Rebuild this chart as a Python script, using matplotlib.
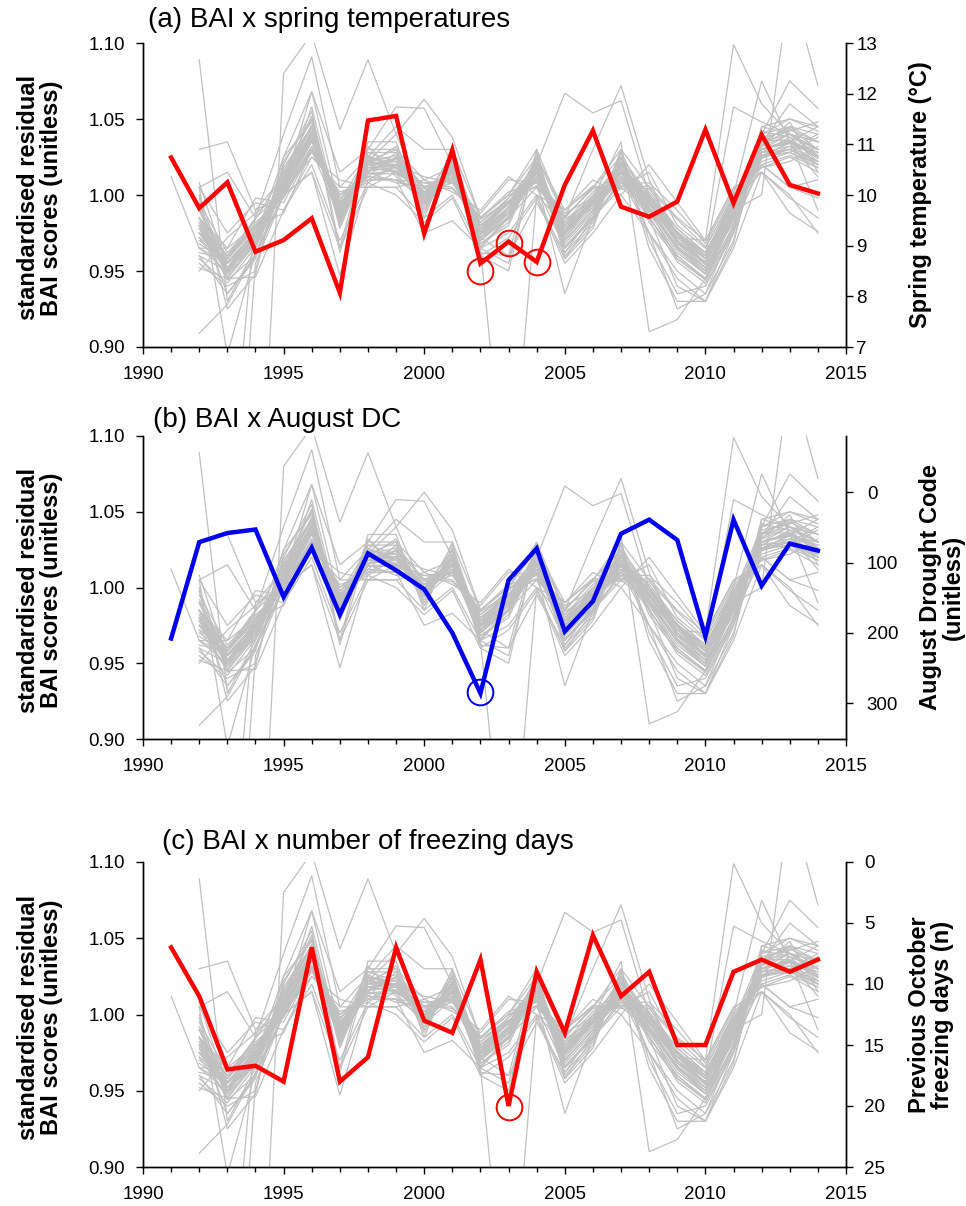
import numpy as np
import matplotlib
matplotlib.use('Agg')
import matplotlib.pyplot as plt
from matplotlib.ticker import MultipleLocator, FixedLocator

plt.rcParams['font.family'] = ['Liberation Sans', 'DejaVu Sans']

nan = np.nan
years = list(range(1991, 2015))

# Climate series (secondary axes)
spring_temp = [10.74, 9.74, 10.25, 8.88, 9.11, 9.54, 8.07, 11.47, 11.56, 9.24, 10.89, 8.65,
               9.08, 8.68, 10.20, 11.27, 9.77, 9.57, 9.87, 11.29, 9.84, 11.19, 10.20, 10.03]
august_dc = [208, 71, 58, 53, 149, 79, 174, 87, 111, 138, 200, 286,
             125, 80, 198, 155, 59, 39, 68, 205, 39, 133, 73, 83]
freezing_days = [7, 11, 17, 16.7, 18, 7, 18, 16, 7, 13, 14, 8,
                 20, 9, 14, 6, 11, 9, 15, 15, 9, 8, 9, 8]

# highlighted years (circles)
circle_years_a = [2002, 2003, 2004]
circle_temp_a = [8.50, 9.06, 8.68]
circle_years_b = [2002]
circle_dc_b = [284]
circle_years_c = [2003]
circle_days_c = [20.1]

# Standardised residual BAI chronologies of individual trees (1991-2014)
bai_trees = [
    [nan, 0.990, 0.950, 0.972, 1.010, 1.045, 0.985, 1.025, 1.018, 0.995, 1.020, 0.970, 0.985, 1.020, 0.970, 0.990, 1.020, 0.990, 0.965, 0.950, 0.985, 1.035, 1.040, 1.030],
    [nan, 0.975, 0.960, 0.980, 1.000, 1.035, 0.995, 1.015, 1.025, 1.005, 1.010, 0.980, 0.995, 1.010, 0.980, 1.000, 1.010, 1.000, 0.975, 0.960, 0.995, 1.025, 1.030, 1.020],
    [nan, 1.000, 0.945, 0.968, 1.015, 1.050, 0.980, 1.030, 1.030, 0.990, 1.025, 0.965, 0.955, 1.025, 0.965, 0.985, 1.025, 0.985, 0.960, 0.945, 0.980, 1.040, 1.045, 1.035],
    [nan, 0.965, 0.965, 0.998, 0.995, 1.030, 1.000, 1.010, 1.010, 1.008, 1.005, 0.985, 1.000, 1.005, 0.985, 1.005, 1.005, 1.015, 0.980, 0.965, 1.000, 1.020, 1.005, 1.010],
    [nan, 0.955, 0.940, 0.950, 1.020, 1.055, 0.965, 1.035, 1.035, 0.985, 1.030, 0.960, 0.950, 1.028, 0.960, 0.980, 1.030, 0.970, 0.935, 0.940, 0.975, 1.045, 1.050, 1.042],
    [nan, 1.005, 0.975, 0.995, 0.990, 1.025, 1.010, 1.005, 1.005, 1.010, 1.002, 0.990, 1.012, 1.000, 0.990, 1.010, 1.000, 1.020, 0.995, 0.970, 1.005, 1.015, 0.998, 0.985],
    [nan, 0.985, 0.935, 0.958, 1.025, 1.048, 0.978, 1.022, 1.040, 0.998, 1.018, 0.972, 0.992, 1.018, 0.972, 0.995, 1.018, 0.975, 0.950, 0.935, 0.970, 1.038, 1.042, 1.048],
    [nan, 0.970, 0.958, 0.978, 1.008, 1.042, 0.992, 1.018, 1.015, 1.002, 1.012, 0.978, 0.988, 1.012, 0.978, 0.992, 1.012, 0.995, 0.972, 0.958, 0.992, 1.028, 1.032, 1.028],
    [nan, 0.960, 0.950, 0.970, 1.003, 1.038, 0.988, 1.028, 1.022, 0.992, 1.022, 0.968, 0.982, 1.022, 0.968, 0.988, 1.022, 0.988, 0.962, 0.948, 0.988, 1.032, 1.048, 1.015],
    [nan, 0.995, 0.962, 0.982, 0.998, 1.032, 0.998, 1.012, 1.028, 1.005, 1.015, 0.982, 0.998, 1.015, 0.982, 1.002, 1.015, 1.002, 0.978, 0.962, 0.998, 1.022, 1.028, 1.038],
    [nan, 0.980, 0.948, 0.974, 1.012, 1.052, 0.982, 1.032, 1.012, 0.996, 1.028, 0.974, 0.990, 1.016, 0.962, 0.982, 1.028, 0.992, 0.966, 0.952, 0.982, 1.042, 1.038, 1.022],
    [nan, 0.950, 0.972, 0.988, 1.002, 1.028, 1.002, 1.008, 1.020, 1.012, 1.008, 0.988, 1.010, 1.008, 0.988, 0.998, 1.008, 1.008, 0.990, 0.968, 1.002, 1.018, 1.022, 1.032],
    [nan, 1.008, 0.952, 0.966, 1.018, 1.045, 0.986, 1.020, 1.032, 0.994, 1.016, 0.966, 0.986, 1.024, 0.974, 0.996, 1.024, 0.982, 0.958, 0.944, 0.978, 1.034, 1.060, 1.045],
    [nan, 0.978, 0.944, 0.960, 1.006, 1.036, 0.996, 1.026, 1.018, 1.000, 1.024, 0.976, 0.996, 1.010, 0.976, 0.994, 1.016, 0.998, 0.974, 0.954, 0.994, 1.030, 1.034, 1.012],
    [nan, 0.990, 0.956, 0.976, 1.004, 1.058, 0.984, 1.016, 1.024, 0.998, 1.020, 0.972, 0.984, 1.018, 0.966, 0.986, 1.020, 0.996, 0.968, 0.956, 0.986, 1.036, 1.036, 0.990],
    [nan, 0.962, 0.958, 0.984, 1.014, 1.040, 0.990, 1.024, 1.014, 1.004, 1.010, 0.980, 0.994, 1.014, 0.984, 0.996, 1.014, 0.994, 0.976, 0.960, 0.996, 1.026, 1.030, 1.040],
    [nan, 0.998, 0.925, 0.948, 1.022, 1.050, 0.962, 1.028, 1.028, 0.988, 1.026, 0.962, 0.960, 1.030, 0.958, 0.978, 1.028, 0.965, 0.930, 0.930, 0.968, 1.045, 1.040, 1.035],
    [nan, 0.985, 0.965, 0.980, 0.988, 1.030, 1.000, 1.015, 1.008, 1.006, 1.004, 0.984, 0.996, 1.006, 0.986, 1.004, 1.006, 1.004, 0.984, 0.966, 0.998, 1.020, 1.026, 1.018],
    [nan, 0.972, 0.946, 0.970, 1.016, 1.044, 0.986, 1.020, 1.020, 0.998, 1.018, 0.970, 0.988, 1.018, 0.970, 0.990, 1.018, 0.990, 0.966, 0.948, 0.985, 1.032, 1.040, 1.026],
    [nan, 0.958, 0.942, 0.966, 1.010, 1.046, 0.980, 1.022, 1.026, 0.994, 1.022, 0.968, 0.980, 1.020, 0.966, 0.984, 1.022, 0.986, 0.956, 0.942, 0.976, 1.036, 1.044, 1.030],
    [1.012, 0.965, 0.950, 0.975, 1.000, 1.030, 0.995, 1.012, 1.010, 0.998, 1.012, 0.975, 0.990, 1.012, 0.975, 0.995, 1.010, 0.998, 0.975, 0.958, 0.992, 1.025, 1.030, 1.020],
    [nan, 1.089, 0.930, 0.965, 1.005, 1.068, 0.990, 1.022, 1.030, 1.010, 1.018, 0.975, 0.995, 1.018, 0.980, 0.995, 1.020, 0.998, 0.975, 0.955, 0.990, 1.030, 1.035, 1.025],
    [nan, 1.030, 1.035, 0.990, 1.000, 1.030, 0.998, 1.010, 1.020, 1.005, 1.015, 0.980, 0.995, 1.012, 0.978, 0.998, 1.012, 1.000, 0.975, 0.958, 0.995, 1.025, 1.028, 1.020],
    [nan, 1.005, 1.015, 0.985, 1.002, 1.025, 1.005, 1.005, 1.015, 1.008, 1.010, 0.985, 1.002, 1.008, 0.990, 1.006, 1.004, 1.006, 0.985, 0.970, 1.004, 1.018, 1.025, 1.015],
    [nan, 0.909, 0.928, 0.962, 1.000, 1.015, 0.965, 1.005, 1.005, 0.985, 1.000, 0.965, 0.975, 1.000, 0.958, 0.985, 1.005, 0.990, 0.958, 0.945, 0.980, 1.020, 1.005, 0.998],
    [nan, 0.952, 0.945, 0.946, 0.990, 1.020, 0.970, 1.008, 1.000, 0.982, 0.998, 0.960, 0.972, 0.998, 0.955, 0.975, 1.000, 0.975, 0.945, 0.930, 0.965, 1.015, 1.000, 0.975],
    [nan, nan, nan, 0.720, 1.080, 1.106, 1.043, 1.089, 1.040, 1.063, 1.038, 0.985, 1.000, 1.025, 0.990, 1.005, 1.025, 1.000, 0.975, 0.960, 0.995, 1.035, 1.045, 1.040],
    [nan, 0.985, 0.960, 0.985, 1.040, 1.091, 1.005, 1.025, 1.045, 1.030, 1.030, 0.985, 1.000, 1.030, 0.985, 1.005, 1.030, 1.005, 0.975, 0.962, 0.995, 1.040, 1.050, 1.045],
    [nan, 0.975, 0.955, 0.972, 1.025, 1.068, 1.015, 1.030, 1.058, 1.057, 1.020, 0.978, 0.995, 1.022, 0.975, 0.998, 1.022, 1.000, 0.970, 0.955, 0.990, 1.033, 1.043, 1.035],
    [nan, 0.960, 0.935, 0.960, 1.000, 1.015, 0.947, 1.010, 1.010, 0.975, 0.983, 0.965, 0.985, 1.005, 0.965, 0.985, 1.010, 0.985, 0.960, 0.945, 0.985, 1.025, 1.035, 1.020],
    [nan, 0.980, 0.955, 0.975, 1.010, 1.040, 0.990, 1.020, 1.020, 1.000, 1.015, 0.965, 0.780, 1.000, 0.980, 1.000, 1.020, 0.998, 0.972, 0.955, 0.990, 1.030, 1.035, 1.025],
    [nan, 0.990, 0.952, 0.978, 1.006, 1.038, 0.994, 1.016, 1.018, 1.002, 1.010, 0.978, 0.998, 1.020, 1.067, 1.054, 1.062, 1.000, 0.975, 0.962, 0.992, 1.028, 1.038, 1.030],
    [nan, 0.968, 0.955, 0.976, 1.004, 1.040, 0.988, 1.020, 1.022, 0.998, 1.014, 0.974, 0.990, 1.025, 0.985, 1.030, 1.072, 1.010, 0.968, 0.952, 0.988, 1.030, 1.035, 1.028],
    [nan, 0.975, 0.950, 0.972, 1.006, 1.036, 0.990, 1.018, 1.020, 0.998, 1.012, 0.975, 0.992, 1.010, 0.935, 0.985, 1.008, 0.992, 0.970, 0.952, 0.985, 1.028, 1.030, 1.022],
    [nan, 0.985, 0.952, 0.974, 1.004, 1.042, 0.992, 1.022, 1.018, 1.002, 1.018, 0.976, 0.990, 1.016, 0.976, 0.998, 1.035, 0.910, 0.918, 0.945, 0.985, 1.030, 1.040, 1.030],
    [nan, 0.972, 0.958, 0.978, 1.006, 1.038, 0.994, 1.020, 1.016, 1.000, 1.014, 0.978, 0.994, 1.014, 0.978, 0.996, 1.014, 0.996, 0.972, 0.970, 1.099, 1.060, 1.040, 1.030],
    [nan, 0.982, 0.950, 0.970, 1.010, 1.046, 0.986, 1.024, 1.022, 0.996, 1.020, 0.972, 0.988, 1.020, 0.972, 0.992, 1.020, 0.992, 0.966, 0.950, 0.990, 1.000, 1.140, 1.072],
    [nan, 0.965, 0.955, 0.975, 1.008, 1.040, 0.990, 1.018, 1.020, 1.000, 1.016, 0.975, 0.990, 1.015, 0.975, 0.995, 1.015, 0.995, 0.968, 0.960, 1.058, 1.048, 1.040, 1.035],
    [nan, 0.992, 0.958, 0.980, 1.002, 1.036, 0.994, 1.016, 1.018, 1.002, 1.014, 0.980, 0.994, 1.012, 0.980, 0.996, 1.012, 0.998, 0.974, 0.958, 1.000, 1.075, 1.035, 1.045],
    [nan, 0.978, 0.952, 0.974, 1.008, 1.042, 0.990, 1.020, 1.024, 0.998, 1.018, 0.974, 0.988, 1.018, 0.974, 0.994, 1.018, 0.990, 0.964, 0.948, 0.985, 1.040, 1.075, 1.057],
    [nan, 1.005, 0.895, 0.962, 1.000, 1.032, 0.992, 1.014, 1.016, 1.000, 1.012, 0.976, 0.990, 1.014, 0.976, 0.994, 1.014, 0.994, 0.970, 0.956, 0.990, 1.026, 1.028, 1.018],
    [nan, nan, 0.780, 0.990, 1.012, 1.044, 0.992, 1.022, 1.020, 1.002, 1.016, 0.976, 0.992, 1.016, 0.976, 0.996, 1.016, 0.996, 0.970, 0.954, 0.990, 1.030, 1.036, 1.026],
    [nan, nan, 0.700, 0.955, 1.000, 1.030, 0.984, 1.014, 1.014, 0.994, 1.010, 0.970, 0.986, 1.010, 0.970, 0.990, 1.010, 0.990, 0.966, 0.950, 0.986, 1.024, 1.032, 1.022],
    [nan, 0.980, 0.960, 0.980, 1.000, 1.030, 0.995, 1.012, 1.010, 1.002, 1.008, 0.982, 0.996, 1.006, 0.982, 0.998, 1.006, 1.000, 0.978, 0.962, 0.996, 1.015, 0.988, 0.976],
    [nan, 0.975, 0.950, 0.972, 1.004, 1.036, 0.986, 1.018, 1.020, 0.996, 1.012, 0.972, 0.988, 1.012, 0.970, 0.990, 1.012, 0.975, 0.925, 0.935, 0.980, 1.030, 1.036, 1.024],
    [nan, 0.985, 0.948, 0.968, 1.010, 1.040, 0.988, 1.022, 1.018, 1.000, 1.016, 0.972, 0.960, 0.995, 0.962, 0.988, 1.016, 0.985, 0.940, 0.930, 0.975, 1.026, 1.034, 1.030],
]

bai_ticks = [0.90, 0.95, 1.00, 1.05, 1.10]
bai_ticklabels = ['0.90', '0.95', '1.00', '1.05', '1.10']

W, H = 966, 1206
fig = plt.figure(figsize=(W / 100, H / 100), dpi=100)

GREY = '#c0c0c0'
RED = '#ff0000'
BLUE = '#0000ee'

panels = [
    dict(top=43, bottom=347, title='(a) BAI x spring temperatures', tx=148, ty=20,
         clim=spring_temp, color=RED, cy=circle_years_a, cv=circle_temp_a,
         ylim=(7, 13), yticks=[7, 8, 9, 10, 11, 12, 13], rpad=2.5,
         rlabel='Spring temperature (°C)', rlx=920),
    dict(top=436, bottom=739, title='(b) BAI x August DC', tx=153, ty=420,
         clim=august_dc, color=BLUE, cy=circle_years_b, cv=circle_dc_b,
         ylim=(351, -80), yticks=[0, 100, 200, 300], rpad=10,
         rlabel='August Drought Code\n(unitless)', rlx=942),
    dict(top=862, bottom=1167, title='(c) BAI x number of freezing days', tx=162, ty=842,
         clim=freezing_days, color=RED, cy=circle_years_c, cv=circle_days_c,
         ylim=(25, 0), yticks=[0, 5, 10, 15, 20, 25], rpad=8,
         rlabel='Previous October\nfreezing days (n)', rlx=931),
]

L, R = 143, 846
for p in panels:
    rect = [L / W, 1 - p['bottom'] / H, (R - L) / W, (p['bottom'] - p['top']) / H]
    ax = fig.add_axes(rect)
    for s in bai_trees:
        ax.plot(years, s, color=GREY, lw=0.9, solid_joinstyle='miter')
    ax.set_xlim(1990, 2015)
    ax.set_ylim(0.90, 1.10)
    ax.yaxis.set_major_locator(FixedLocator(bai_ticks))
    ax.set_yticklabels(bai_ticklabels)
    ax.xaxis.set_major_locator(MultipleLocator(5))
    ax.xaxis.set_minor_locator(MultipleLocator(1))
    ax.spines['top'].set_visible(False)
    for sp in ax.spines.values():
        sp.set_linewidth(1.0)
    ax.tick_params(axis='both', which='major', direction='out', length=5, width=1,
                   labelsize=13.5)
    ax.tick_params(axis='y', pad=8)
    ax.tick_params(axis='x', which='major', pad=9)
    ax.tick_params(axis='x', which='minor', direction='out', length=3.6, width=1)

    ax2 = ax.twinx()
    ax2.plot(years, p['clim'], color=p['color'], lw=3.2, solid_joinstyle='miter')
    ax2.plot(p['cy'], p['cv'], 'o', mfc='none', mec=p['color'], ms=18.5, mew=1.4)
    ax2.set_ylim(*p['ylim'])
    ax2.yaxis.set_major_locator(FixedLocator(p['yticks']))
    ax2.spines['top'].set_visible(False)
    for sp in ax2.spines.values():
        sp.set_linewidth(1.0)
    ax2.tick_params(axis='y', direction='out', length=5, width=1, labelsize=13.5,
                    pad=p['rpad'])

    mid = (p['top'] + p['bottom']) / 2
    fig.text(p['tx'] / W, 1 - p['ty'] / H, p['title'], fontsize=20, ha='left', va='center')
    fig.text(40 / W, 1 - (mid + 3) / H, 'standardised residual\nBAI scores (unitless)',
             rotation=90, ha='center', va='center', fontsize=17, fontweight='bold',
             multialignment='center', linespacing=1.0)
    fig.text(p['rlx'] / W, 1 - mid / H, p['rlabel'], rotation=90, ha='center', va='center',
             fontsize=17, fontweight='bold', multialignment='center', linespacing=1.0)

fig.savefig('out.png', dpi=100)
